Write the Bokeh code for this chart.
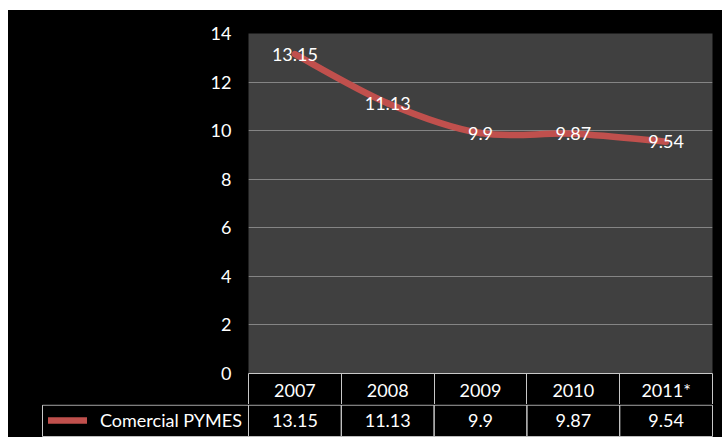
from bokeh.plotting import figure
from bokeh.layouts import column
from bokeh.models import Range1d, FixedTicker, ColumnDataSource, Legend, LegendItem
from bokeh.core.properties import value
from bokeh.embed import file_html
from bokeh.resources import INLINE

# ---- data ----
years = ["2007", "2008", "2009", "2010", "2011*"]
values = [13.15, 11.13, 9.9, 9.87, 9.54]
value_labels = ["13.15", "11.13", "9.9", "9.87", "9.54"]
series_name = "Comercial PYMES"
y_ticks = [0, 2, 4, 6, 8, 10, 12, 14]

# ---- style ----
FONT = "Lato"
FS = "18px"
LINE_RED = "#C0504D"
PLOT_BG = "#404040"
GRID = "#858585"
BORDER = "#c8c8c8"

n = len(years)
xs = list(range(n))

FRAME_W = 464
LEFT = 240

# ---- chart figure ----
p = figure(width=714, height=394, x_range=Range1d(-0.5, n - 0.5), y_range=Range1d(0, 14),
           output_backend="svg", toolbar_location=None,
           min_border_left=LEFT, min_border_right=10, min_border_top=23, min_border_bottom=31,
           background_fill_color=PLOT_BG, border_fill_color="black", outline_line_color=None)
p.frame_align = False

p.yaxis.ticker = FixedTicker(ticks=y_ticks)
p.yaxis.axis_line_color = None
p.yaxis.major_tick_line_color = None
p.yaxis.minor_tick_line_color = None
p.yaxis.major_tick_out = 0
p.yaxis.major_tick_in = 0
p.yaxis.major_label_text_color = "white"
p.yaxis.major_label_text_font = FONT
p.yaxis.major_label_text_font_size = FS
p.yaxis.major_label_standoff = 17

p.ygrid.ticker = FixedTicker(ticks=y_ticks)
p.ygrid.grid_line_color = GRID
p.xgrid.visible = False

p.xaxis.ticker = FixedTicker(ticks=xs, minor_ticks=[i - 0.5 for i in range(n + 1)])
p.xaxis.major_label_overrides = {i: y for i, y in enumerate(years)}
p.xaxis.major_tick_line_color = None
p.xaxis.major_tick_out = 0
p.xaxis.major_tick_in = 0
p.xaxis.minor_tick_line_color = BORDER
p.xaxis.minor_tick_out = 31
p.xaxis.minor_tick_in = 0
p.xaxis.axis_line_color = BORDER
p.xaxis.major_label_text_color = "white"
p.xaxis.major_label_text_font = FONT
p.xaxis.major_label_text_font_size = FS
p.xaxis.major_label_standoff = -26

# smooth (Catmull-Rom style) line through the data points
seg = dict(x0=[], y0=[], x1=[], y1=[], cx0=[], cy0=[], cx1=[], cy1=[])
for i in range(n - 1):
    a, b = max(i - 1, 0), min(i + 2, n - 1)
    seg["x0"].append(xs[i]); seg["y0"].append(values[i])
    seg["x1"].append(xs[i + 1]); seg["y1"].append(values[i + 1])
    seg["cx0"].append(xs[i] + (xs[i + 1] - xs[a]) / 6)
    seg["cy0"].append(values[i] + (values[i + 1] - values[a]) / 6)
    seg["cx1"].append(xs[i + 1] - (xs[b] - xs[i]) / 6)
    seg["cy1"].append(values[i + 1] - (values[b] - values[i]) / 6)
p.bezier(source=ColumnDataSource(seg), x0="x0", y0="y0", x1="x1", y1="y1",
         cx0="cx0", cy0="cy0", cx1="cx1", cy1="cy1",
         line_color=LINE_RED, line_width=6.5, line_cap="round")

lab_src = ColumnDataSource(dict(x=xs, y=values, t=value_labels))
p.text(source=lab_src, x="x", y="y", text="t", text_color="white",
       text_font=value(FONT), text_font_size=FS, text_align="center", text_baseline="middle")

# ---- data table row figure ----
ppu = FRAME_W / n
xb_start = -0.5 - LEFT / ppu
xb_end = xb_start + 714 / ppu
q = figure(width=714, height=33, x_range=Range1d(xb_start, xb_end), y_range=Range1d(-0.03, 1.02),
           x_axis_type=None, y_axis_type=None, output_backend="svg", toolbar_location=None,
           min_border=0, background_fill_color="black", border_fill_color="black",
           outline_line_color=None)
q.frame_align = False
q.xgrid.visible = False
q.ygrid.visible = False

legend_left = -0.5 - 206 / ppu
cell_left = [legend_left] + [i - 0.5 for i in range(n)]
cell_right = [-0.5] + [i + 0.5 for i in range(n)]
q.quad(left=cell_left, right=cell_right, bottom=[0] * (n + 1), top=[1] * (n + 1),
       fill_color=None, line_color=BORDER, line_width=1)

row_src = ColumnDataSource(dict(x=xs, y=[0.5] * n, t=value_labels))
q.text(source=row_src, x="x", y="y", text="t", text_color="white",
       text_font=value(FONT), text_font_size=FS, text_align="center", text_baseline="middle")

# the series line in this panel lies outside its y-range; it only feeds the legend key
r_leg = q.line(x=xs, y=values, line_color=LINE_RED, line_width=6.5, line_cap="round")
legend = Legend(items=[LegendItem(label=series_name, renderers=[r_leg])],
                location=(40, 6), background_fill_alpha=0, border_line_color=None,
                label_text_color="white", label_text_font=FONT, label_text_font_size=FS,
                glyph_width=39, glyph_height=20, label_height=20, label_standoff=13,
                padding=0, margin=0, spacing=0)
q.add_layout(legend)

layout = column(p, q, spacing=0)
layout.margin = (10, 0, 0, 8)
layout.styles = {"background-color": "black"}
open("out.html", "w").write(file_html(layout, INLINE))
